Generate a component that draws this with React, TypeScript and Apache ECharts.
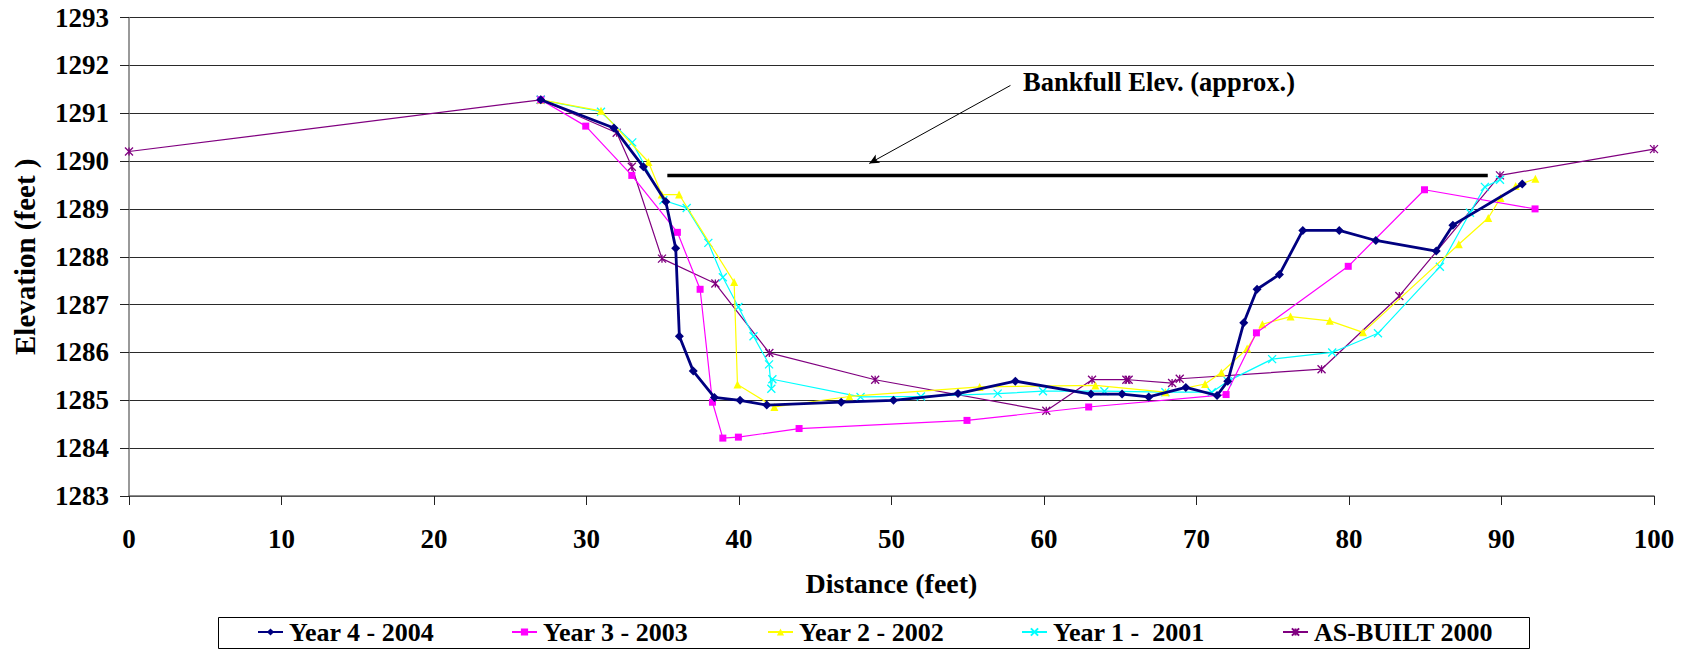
import React, { useEffect, useRef } from "react";
import * as echarts from "echarts";

const seriesNames = ["Year 4 - 2004", "Year 3 - 2003", "Year 2 - 2002", "Year 1 -  2001", "AS-BUILT 2000"];

const year4X = [27, 31.8, 33.73, 35.2, 35.85, 36.09, 37.0, 38.39, 40.07, 41.82, 46.7, 50.13, 54.36, 58.12, 63.08, 65.12, 66.87, 69.3, 71.35, 72.05, 73.1, 73.97, 75.44, 76.97, 79.36, 81.76, 85.72, 86.81, 91.36];
const year4Y = [1291.28, 1290.69, 1289.88, 1289.15, 1288.18, 1286.34, 1285.61, 1285.06, 1285.0, 1284.9, 1284.96, 1285.0, 1285.14, 1285.4, 1285.13, 1285.13, 1285.07, 1285.27, 1285.1, 1285.4, 1286.62, 1287.32, 1287.63, 1288.55, 1288.55, 1288.34, 1288.12, 1288.66, 1289.52];

const year3X = [27, 29.95, 32.97, 35.96, 37.45, 38.26, 38.94, 39.96, 43.94, 54.95, 62.93, 71.94, 73.93, 79.95, 84.95, 92.2];
const year3Y = [1291.28, 1290.73, 1289.7, 1288.51, 1287.32, 1284.96, 1284.21, 1284.23, 1284.41, 1284.58, 1284.86, 1285.12, 1286.41, 1287.8, 1289.4, 1289.0];

const year2X = [27, 30.95, 34.06, 34.93, 36.07, 39.68, 39.9, 42.32, 47.24, 55.78, 63.37, 67.96, 70.56, 71.63, 73.32, 74.32, 76.17, 78.74, 80.92, 87.2, 89.13, 89.94, 90.93, 92.22];
const year2Y = [1291.28, 1291.05, 1289.98, 1289.3, 1289.3, 1287.47, 1285.33, 1284.86, 1285.08, 1285.28, 1285.31, 1285.17, 1285.34, 1285.58, 1286.08, 1286.59, 1286.75, 1286.66, 1286.42, 1288.26, 1288.81, 1289.23, 1289.48, 1289.63];

const year1X = [27, 30.95, 33.0, 35.04, 36.57, 37.99, 38.94, 39.96, 40.95, 41.97, 42.12, 42.19, 47.97, 51.93, 56.96, 59.93, 63.96, 67.96, 71.0, 72.05, 74.96, 78.9, 81.9, 85.96, 87.93, 88.91, 89.9];
const year1Y = [1291.28, 1291.03, 1290.39, 1289.18, 1289.02, 1288.29, 1287.57, 1286.95, 1286.34, 1285.75, 1285.24, 1285.44, 1285.07, 1285.08, 1285.14, 1285.19, 1285.19, 1285.17, 1285.17, 1285.4, 1285.86, 1286.0, 1286.4, 1287.79, 1288.92, 1289.46, 1289.61];

const asBuiltX = [0, 27, 31.98, 32.97, 34.95, 38.45, 41.99, 48.93, 60.15, 63.15, 65.4, 65.55, 68.4, 68.9, 78.2, 83.3, 89.9, 100];
const asBuiltY = [1290.2, 1291.28, 1290.59, 1289.88, 1287.96, 1287.44, 1285.99, 1285.43, 1284.78, 1285.43, 1285.43, 1285.43, 1285.36, 1285.45, 1285.65, 1287.18, 1289.7, 1290.25];

const bankfullX = [35.3, 89.1];
const bankfullY = [1289.7, 1289.7];
const arrowFrom = [57.8, 1291.58];
const arrowTo = [48.54, 1289.95];

const xTicks = { min: 0, max: 100, interval: 10 };
const yTicks = { min: 1283, max: 1293, interval: 1 };

const FONT = "'Liberation Serif', 'Times New Roman', serif";

const zip = (xs: number[], ys: number[]) => xs.map((x, i) => [x, ys[i]]);

const X_PATH = "path://M0,0L10,10M0,10L10,0";
const STAR_PATH = "path://M0,0L10,10M0,10L10,0M5,0L5,10";

export default function App() {
  const ref = useRef<HTMLDivElement>(null);
  useEffect(() => {
    if (!ref.current) return;
    const chart = echarts.init(ref.current, null, { renderer: "svg" });
    const styles = [
      { color: "#000080", symbol: "diamond", size: 9, width: 2.8, bw: 0 },
      { color: "#FF00FF", symbol: "rect", size: 7, width: 1.2, bw: 0 },
      { color: "#FFFF00", symbol: "triangle", size: 8, width: 1.2, bw: 0 },
      { color: "#00FFFF", symbol: X_PATH, size: 8, width: 1.2, bw: 1.3 },
      { color: "#800080", symbol: STAR_PATH, size: 8, width: 1.2, bw: 1.3 },
    ];
    const datas = [
      zip(year4X, year4Y),
      zip(year3X, year3Y),
      zip(year2X, year2Y),
      zip(year1X, year1Y),
      zip(asBuiltX, asBuiltY),
    ];
    const order = [4, 3, 2, 1, 0];
    const series: any[] = order.map((i) => ({
      name: seriesNames[i],
      type: "line",
      data: datas[i],
      symbol: styles[i].symbol,
      symbolSize: styles[i].size,
      showAllSymbol: true,
      lineStyle: { color: styles[i].color, width: styles[i].width },
      itemStyle: { color: styles[i].color, borderColor: styles[i].color, borderWidth: styles[i].bw },
      z: 3 + (4 - i),
    }));
    series.push({
      name: "Bankfull",
      type: "line",
      data: zip(bankfullX, bankfullY),
      symbol: "none",
      lineStyle: { color: "#000", width: 3.5 },
      z: 2,
      markLine: {
        silent: true,
        symbol: ["none", "arrow"],
        symbolSize: [7, 10],
        label: { show: false },
        lineStyle: { color: "#000", width: 1, type: "solid" },
        data: [[{ coord: arrowFrom }, { coord: arrowTo }]],
      },
    });
    const legendLefts = [257, 511, 767, 1021, 1282];
    const legends = seriesNames.map((n, i) => ({
      data: [n],
      left: legendLefts[i],
      top: 619,
      padding: 0,
      itemWidth: 25,
      itemHeight: 9,
      selectedMode: false,
      textStyle: { fontFamily: FONT, fontWeight: "bold", fontSize: 26, color: "#000", padding: [0, 0, 0, 1] },
    }));
    chart.setOption({
      animation: false,
      backgroundColor: "#fff",
      grid: { left: 129, right: 34, top: 17.5, bottom: 154, containLabel: false },
      legend: legends,
      xAxis: {
        type: "value",
        ...xTicks,
        name: "Distance (feet)",
        nameLocation: "middle",
        nameGap: 73,
        nameTextStyle: { fontFamily: FONT, fontWeight: "bold", fontSize: 28, color: "#000" },
        axisLine: { show: true, lineStyle: { color: "#666", width: 1.5 } },
        axisTick: { show: true, length: 9, inside: false, lineStyle: { color: "#222" } },
        axisLabel: { fontFamily: FONT, fontWeight: "bold", fontSize: 27, color: "#000", margin: 29 },
        splitLine: { show: false },
      },
      yAxis: {
        type: "value",
        ...yTicks,
        name: "Elevation (feet )",
        nameLocation: "middle",
        nameGap: 90,
        nameTextStyle: { fontFamily: FONT, fontWeight: "bold", fontSize: 29, color: "#000" },
        axisLine: { show: true, lineStyle: { color: "#777", width: 1.5 } },
        axisTick: { show: true, length: 9, inside: false, lineStyle: { color: "#222" } },
        axisLabel: {
          fontFamily: FONT,
          fontWeight: "bold",
          fontSize: 27,
          color: "#000",
          margin: 20,
          formatter: (v: number) => String(v),
        },
        splitLine: { show: true, lineStyle: { color: "#2a2a2a", width: 1 } },
      },
      graphic: [
        {
          type: "text",
          x: 1159,
          y: 82,
          style: {
            text: "Bankfull Elev. (approx.)",
            fontFamily: FONT,
            fontWeight: "bold",
            fontSize: 26.5,
            fill: "#000",
            textAlign: "center",
            textVerticalAlign: "middle",
          },
        },
        {
          type: "rect",
          shape: { x: 218.5, y: 617.5, width: 1311, height: 31 },
          style: { fill: "none", stroke: "#000", lineWidth: 1 },
          z: 0,
        },
      ],
      series,
    });
    return () => chart.dispose();
  }, []);
  return (
    <div
      ref={ref}
      style={{ position: "absolute", left: 0, top: 0, width: 1688, height: 650, background: "#fff" }}
    />
  );
}
